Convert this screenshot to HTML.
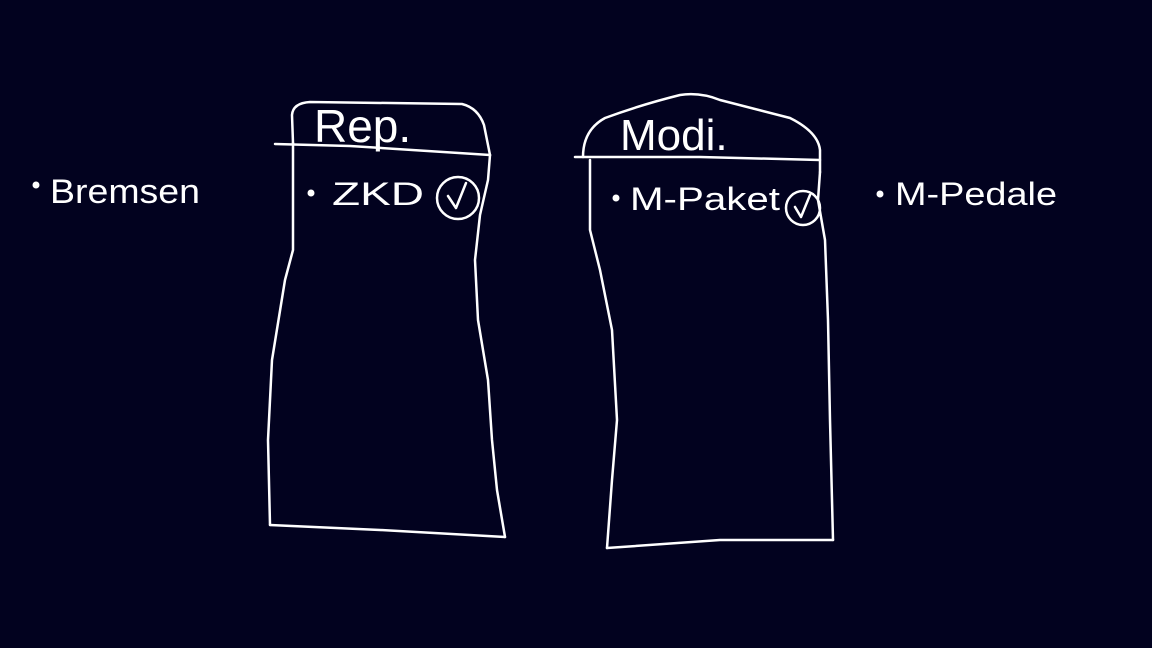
<!DOCTYPE html>
<html>
<head>
<meta charset="utf-8">
<style>
html,body{margin:0;padding:0;background:#02021f;}
svg{display:block;}
text{font-family:"Liberation Sans",sans-serif;fill:#fff;}
</style>
</head>
<body>
<svg width="1152" height="648" viewBox="0 0 1152 648">
<rect width="1152" height="648" fill="#02021f"/>
<g fill="none" stroke="#fff" stroke-width="2.5" stroke-linecap="round" stroke-linejoin="round">
  <g>
    <path d="M293,143 L292,115 Q293,103 310,102 L462,104 Q478,108 484,125 L490,155"/>
    <path d="M275,144 L350,146 L490,155"/>
    <path d="M293,143 L293,250 L285,280 L272,360 L268,440 L270,525"/>
    <path d="M270,525 L380,530 L505,537"/>
    <path d="M490,155 L488,180 L480,215 L475,260 L478,320 L488,380 L492,440 L497,490 L505,537"/>
  </g>
  <g>
    <path d="M583,157 Q583,130 605,118 Q640,105 680,95 Q700,92 720,100 L790,118 Q818,132 820,150 L820,172"/>
    <path d="M575,157 L700,157 L820,160"/>
    <path d="M590,160 L590,230 L600,270 L612,330 L617,420 L612,480 L607,548"/>
    <path d="M607,548 L720,540 L833,540"/>
    <path d="M820,172 L818,200 L825,240 L828,320 L830,420 L833,540"/>
  </g>
  <circle cx="458" cy="198" r="21"/>
  <path d="M448,196 L456,208 L466,183"/>
  <circle cx="803" cy="208" r="17"/>
  <path d="M795,207 L801,217 L810,195"/>
</g>
<g fill="#fff">
  <circle cx="36" cy="185" r="3.5"/>
  <circle cx="311" cy="193" r="3.5"/>
  <circle cx="616" cy="198" r="3.5"/>
  <circle cx="880" cy="194" r="3.5"/>
</g>
<text x="314" y="142" font-size="46">Rep.</text>
<text x="620" y="150" font-size="44">Modi.</text>
<text x="50" y="203" font-size="34" textLength="150" lengthAdjust="spacingAndGlyphs">Bremsen</text>
<text x="332" y="205" font-size="32" textLength="92" lengthAdjust="spacingAndGlyphs">ZKD</text>
<text x="630" y="210" font-size="32" textLength="150" lengthAdjust="spacingAndGlyphs">M-Paket</text>
<text x="895" y="205" font-size="32" textLength="162" lengthAdjust="spacingAndGlyphs">M-Pedale</text>
</svg>
</body>
</html>
